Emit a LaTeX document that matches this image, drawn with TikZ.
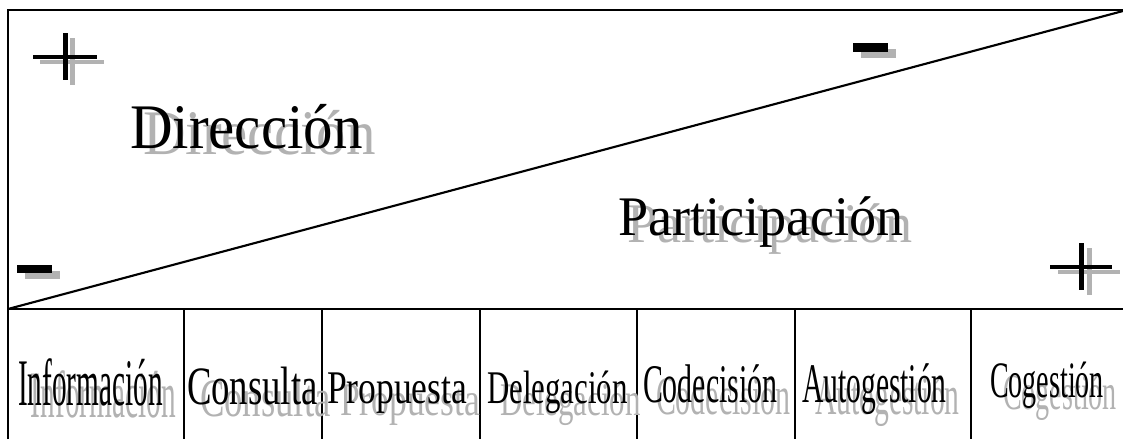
\documentclass[tikz,border=0pt]{standalone}
\usepackage{graphicx}
\usepackage{fontspec}
\setmainfont{Liberation Serif}
\definecolor{shgray}{RGB}{178,178,178}
\newcommand{\lbltxt}[3]{\scalebox{#1}[1]{\fontsize{#2}{#2}\selectfont #3}}
\tikzset{
  frame/.style={line width=1.6pt, black},
  divider/.style={line width=1.1pt, black},
  txt/.style={anchor=base west, inner sep=0pt, outer sep=0pt},
  shtxt/.style={txt, text=shgray},
  bar/.style={fill=black, draw=none},
  shbar/.style={fill=shgray, draw=none},
}
\begin{document}
\begin{tikzpicture}[x=0.75pt, y=-0.75pt]
\useasboundingbox (0,0) rectangle (1123,439);
% corners
\coordinate (TL) at (8,10);
\coordinate (TR) at (1123,10);
\coordinate (ML) at (8,309);
\coordinate (MR) at (1123,309);
\coordinate (BL) at (8,439);
% frame
\draw[frame] (BL) -- (TL) -- (TR);
\draw[frame] (ML) -- (MR);
\draw[frame] (ML) -- (1123,11);
% dividers
\foreach \x/\n in {184/a,322/b,480/c,637/d,795/e,971/f}{
  \coordinate (d\n t) at (\x,309);
  \coordinate (d\n b) at (\x,439);
  \draw[divider] (d\n t) -- (d\n b);
}
% plus / minus signs (shadows first)
\fill[shbar] (40,60) rectangle (104,64);
\fill[shbar] (69.5,38) rectangle (74.5,85);
\fill[bar] (33,55) rectangle (97,59);
\fill[bar] (62.5,33) rectangle (67.5,80);

\fill[shbar] (1058,270) rectangle (1120,274);
\fill[shbar] (1086.5,248) rectangle (1091.5,295);
\fill[bar] (1050,265) rectangle (1112,269);
\fill[bar] (1078.5,243) rectangle (1083.5,290);

\fill[shbar] (861,49) rectangle (896,58);
\fill[bar] (853,43) rectangle (888,52);
\fill[shbar] (25,271) rectangle (60,279);
\fill[bar] (17,265) rectangle (52,273);

% big labels
\node[shtxt] (dirS) at (143,154) {\lbltxt{0.93}{47.6pt}{Dirección}};
\node[txt] (dir) at (130,148) {\lbltxt{0.93}{47.6pt}{Dirección}};
\node[shtxt] (parS) at (627,242) {\lbltxt{0.97}{41.9pt}{Participación}};
\node[txt] (par) at (618,235) {\lbltxt{0.97}{41.9pt}{Participación}};

% bottom labels: shadows
\node[shtxt] (infS) at (31,417) {\lbltxt{0.44}{49.9pt}{Información}};
\node[shtxt] (conS) at (200,416) {\lbltxt{0.68}{40.5pt}{Consulta}};
\node[shtxt] (proS) at (340,415) {\lbltxt{0.76}{35.1pt}{Propuesta}};
\node[shtxt] (delS) at (500,415) {\lbltxt{0.66}{35.1pt}{Delegación}};
\node[shtxt] (codS) at (656,414) {\lbltxt{0.55}{40.8pt}{Codecisión}};
\node[shtxt] (autS) at (815,414) {\lbltxt{0.53}{41.9pt}{Autogestión}};
\node[shtxt] (cogS) at (1003,409) {\lbltxt{0.55}{38.3pt}{Cogestión}};
% bottom labels: main
\node[txt] (inf) at (18,405) {\lbltxt{0.44}{49.9pt}{Información}};
\node[txt] (con) at (187,404) {\lbltxt{0.68}{40.5pt}{Consulta}};
\node[txt] (pro) at (327,403) {\lbltxt{0.76}{35.1pt}{Propuesta}};
\node[txt] (del) at (487,403) {\lbltxt{0.66}{35.1pt}{Delegación}};
\node[txt] (cod) at (643,402) {\lbltxt{0.55}{40.8pt}{Codecisión}};
\node[txt] (aut) at (802,402) {\lbltxt{0.53}{41.9pt}{Autogestión}};
\node[txt] (cog) at (990,397) {\lbltxt{0.55}{38.3pt}{Cogestión}};
\end{tikzpicture}
\end{document}
